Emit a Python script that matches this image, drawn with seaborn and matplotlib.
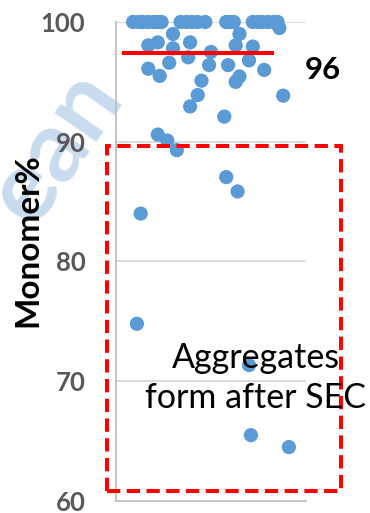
import matplotlib
matplotlib.use("Agg")
import matplotlib.pyplot as plt
from matplotlib.patches import Rectangle
import numpy as np
import pandas as pd
import seaborn as sns

# Monomer % of each sample; x is the horizontal jitter position of each dot
jitter_x = [
    0.09, 0.12, 0.14, 0.17, 0.20, 0.22, 0.24,
    0.34, 0.37, 0.40, 0.43, 0.47,
    0.58, 0.60, 0.62,
    0.72, 0.75, 0.77, 0.80, 0.83, 0.85, 0.86,
    0.30, 0.65, 0.17, 0.22, 0.39, 0.30, 0.38, 0.63, 0.72,
    0.50, 0.28, 0.49, 0.59, 0.70, 0.17, 0.23, 0.78, 0.45,
    0.63, 0.65, 0.43, 0.88, 0.39, 0.57, 0.22, 0.27, 0.32,
    0.58, 0.64, 0.13, 0.11, 0.70, 0.71, 0.91,
]
monomer_pct = [
    100, 100, 100, 100, 100, 100, 100,
    100, 100, 100, 100, 100,
    100, 100, 100,
    100, 100, 100, 100, 100, 100, 99.5,
    99.0, 99.0, 98.05, 98.3, 98.3, 97.8, 97.05, 98.05, 97.95,
    97.5, 96.6, 96.4, 96.4, 96.8, 96.1, 95.5, 96.0, 95.1,
    95.0, 95.45, 93.9, 93.85, 92.95, 92.1, 90.6, 90.1, 89.3,
    87.05, 85.85, 84.0, 74.8, 71.35, 65.5, 64.5,
]
median_line = 97.4
mean_label = 96
y_ticks = [60, 70, 80, 90, 100]

df = pd.DataFrame({"x": jitter_x, "Monomer%": monomer_pct})

W, H, DPI = 370, 513, 100
fig = plt.figure(figsize=(W / DPI, H / DPI), dpi=DPI)

# watermark behind everything
fig.text(0.15, 0.715, "ean", rotation=55, fontsize=72, fontweight="bold",
         family="Lato", color="#c8dbef", ha="center", va="center", zorder=-5)

ax = fig.add_axes([116 / W, 12 / H, 190 / W, 479 / H])
ax.patch.set_alpha(0)

sns.scatterplot(data=df, x="x", y="Monomer%", ax=ax, color="#5b9bd5",
                s=105, edgecolor="none", linewidth=0, clip_on=False, zorder=3,
                legend=False)

ax.set_xlim(0, 1)
ax.set_ylim(60, 100)
ax.set_yticks(y_ticks)
ax.set_yticklabels([str(t) for t in y_ticks], family="Lato", fontweight="bold",
                   fontsize=18.5, color="#595959")
ax.tick_params(axis="y", length=0, pad=22)
ax.set_xticks([])
ax.set_xlabel("")
for t in y_ticks[1:]:
    ax.axhline(t, color="#d9d9d9", lw=1.3, zorder=1)
for side in ["top", "right"]:
    ax.spines[side].set_visible(False)
for side in ["left", "bottom"]:
    ax.spines[side].set_color("#bfbfbf")
    ax.spines[side].set_linewidth(1.3)

ax.set_ylabel("Monomer%", family="Lato", fontweight="bold", fontsize=24,
              color="black")
ax.yaxis.set_label_coords(-0.385, 0.545)

# summary line and its value
ax.plot([0.032, 0.83], [median_line, median_line], color="#ff0000", lw=2.9,
        solid_capstyle="butt", zorder=4, clip_on=False)
ax.text(1.09, mean_label, str(mean_label), family="Lato", fontweight="bold",
        fontsize=22.5, color="black", ha="center", va="center", clip_on=False)

# dashed box around the aggregated samples
box = Rectangle((-0.047, 60.85), 1.231, 89.67 - 60.85, fill=False,
                edgecolor="#ff0000", lw=2.9, linestyle=(0, (3.3, 1.6)),
                clip_on=False, zorder=5)
ax.add_patch(box)
ax.text(0.735, 70.24, "Aggregates\nform after SEC", family="Lato", fontsize=24.5,
        color="black", ha="center", va="center", multialignment="center",
        linespacing=1.3, clip_on=False, zorder=6)

fig.savefig("out.png", dpi=DPI)
